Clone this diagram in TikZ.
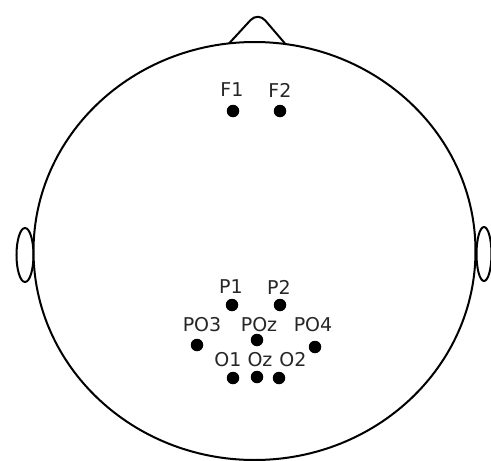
\documentclass[tikz,border=0pt]{standalone}
\usepackage{fontspec}
\setmainfont{DejaVu Sans}
\usetikzlibrary{positioning}

\tikzset{
    electrode/.style={circle, fill=black, inner sep=0pt, minimum size=12.5pt},
    elabel/.style={font=\fontsize{19}{21}\selectfont, inner sep=0pt, text=black!85}
}

\begin{document}
\begin{tikzpicture}[x=1pt, y=-1pt, line width=2pt]
    \useasboundingbox (0,0) rectangle (491,461);

    % ears
    \draw (25,255) ellipse [x radius=8.5, y radius=27];
    \draw (484,254) ellipse [x radius=7.5, y radius=27];

    % head
    \fill[white] (254.5,251) ellipse [x radius=221, y radius=209];
    \draw (254.5,251) ellipse [x radius=221, y radius=209];

    % nose
    \draw[rounded corners=11pt] (229,43.5) -- (258,12) -- (285,43.5);

    % electrodes: name / dot x / dot y / label x / label y
    \foreach \name/\dx/\dy/\lx/\ly in {
        F1/233/111/232/90, F2/280/111/280/90,
        P1/232/305/231/287, P2/280/305/279/287,
        PO3/197/345/202/325, POz/257/340/259/325, PO4/315/347/313/325,
        O1/233/378/228/360, Oz/257/377/260/360, O2/279/378/293/360}{
        \node[electrode] (\name) at (\dx,\dy) {};
        \node[elabel] (\name-lbl) at (\lx,\ly) {\name};
    }
\end{tikzpicture}
\end{document}
